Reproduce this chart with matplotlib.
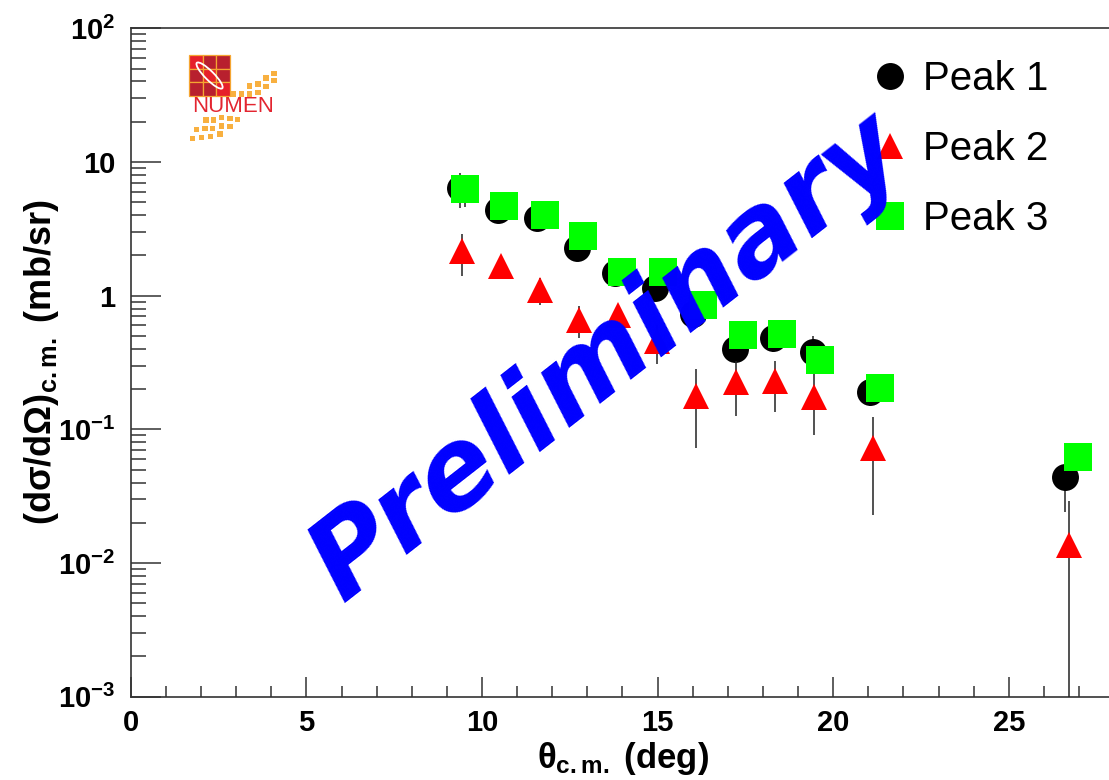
import matplotlib
matplotlib.use("Agg")
import matplotlib.pyplot as plt
import numpy as np
from matplotlib.lines import Line2D
from matplotlib.patches import Rectangle, Ellipse
from matplotlib.ticker import FixedLocator, FixedFormatter, LogLocator, NullFormatter, MultipleLocator

plt.rcParams['font.family'] = ['Liberation Sans', 'DejaVu Sans']
plt.rcParams['mathtext.fontset'] = 'custom'
plt.rcParams['mathtext.rm'] = 'Liberation Sans:bold'
plt.rcParams['mathtext.it'] = 'Liberation Sans:bold'
plt.rcParams['mathtext.bf'] = 'Liberation Sans:bold'

# angular distributions, cross sections in mb/sr
theta_p1 = [9.38, 10.46, 11.57, 12.71, 13.79, 14.93, 16.01, 17.21, 18.30, 19.42, 21.05, 26.60]
sigma_p1 = [6.4, 4.4, 3.8, 2.27, 1.48, 1.14, 0.73, 0.40, 0.48, 0.38, 0.19, 0.044]
err_p1 = [1.9, 0.4, 0.3, 0.2, 0.15, 0.1, 0.16, 0.06, 0.1, 0.12, 0.04, 0.02]

theta_p2 = [9.42, 10.55, 11.65, 12.76, 13.88, 14.99, 16.10, 17.24, 18.35, 19.46, 21.12, 26.72]
sigma_p2 = [2.15, 1.68, 1.10, 0.66, 0.72, 0.456, 0.177, 0.226, 0.228, 0.176, 0.073, 0.0137]
err_p2 = [0.74, 0.1, 0.25, 0.18, 0.1, 0.15, 0.104, 0.1, 0.094, 0.085, 0.05, 0.0156]

theta_p3 = [9.52, 10.62, 11.78, 12.89, 14.00, 15.16, 16.28, 17.42, 18.54, 19.63, 21.33, 26.98]
sigma_p3 = [6.3, 4.66, 4.0, 2.78, 1.51, 1.51, 0.85, 0.51, 0.52, 0.33, 0.203, 0.062]
err_p3 = [1.7, 0.4, 0.3, 0.25, 0.12, 0.12, 0.08, 0.05, 0.05, 0.03, 0.02, 0.006]

labels = ['Peak 1', 'Peak 2', 'Peak 3']
ytick_vals = [1e-3, 1e-2, 1e-1, 1, 10, 100]
ytick_text = ['10$^{-3}$', '10$^{-2}$', '10$^{-1}$', '1', '10', '10$^{2}$']

W, H = 1109, 780
fig = plt.figure(figsize=(W / 100, H / 100), dpi=100)
ax = fig.add_axes([130.8 / W, 1 - 696.7 / H, 28 * 35.12 / W, (696.7 - 28.3) / H])

ebar = dict(ls='none', ecolor='#222222', elinewidth=1.1, capsize=3.3, capthick=1.1, mew=0)
ax.errorbar(theta_p1, sigma_p1, yerr=err_p1, marker='o', ms=19.4, color='black', zorder=3, **ebar)
ax.errorbar(theta_p2, sigma_p2, yerr=err_p2, marker='^', ms=19.0, color='#ff0000', zorder=4, **ebar)
ax.errorbar(theta_p3, sigma_p3, yerr=err_p3, marker='s', ms=20.5, color='#00ff00', zorder=5, **ebar)

ax.set_yscale('log', nonpositive='clip')
ax.set_xlim(0, 28)
ax.set_ylim(1e-3, 1e2)

# ROOT-like axis frame and ticks
for s in ['left', 'bottom', 'top', 'right']:
    ax.spines[s].set_color('#333333')
    ax.spines[s].set_linewidth(1.2)
ax.xaxis.set_major_locator(MultipleLocator(5))
ax.xaxis.set_minor_locator(MultipleLocator(1))
ax.yaxis.set_major_locator(FixedLocator(ytick_vals))
ax.yaxis.set_major_formatter(FixedFormatter(ytick_text))
ax.yaxis.set_minor_locator(LogLocator(base=10, subs=np.arange(2, 10)))
ax.yaxis.set_minor_formatter(NullFormatter())
ax.tick_params(axis='x', which='major', direction='in', length=14.5, width=1.1, color='#333333',
               labelsize=21, pad=9)
ax.tick_params(axis='x', which='minor', direction='in', length=8, width=1.1, color='#333333')
ax.tick_params(axis='y', which='major', direction='in', length=21.5, width=1.1, color='#333333',
               labelsize=21, pad=11)
ax.tick_params(axis='y', which='minor', direction='in', length=11, width=1.1, color='#333333')
for lab in ax.get_xticklabels() + ax.get_yticklabels():
    lab.set_fontweight('bold')

ax.set_xlabel(r'$\theta_{\mathrm{c.m.}}$ (deg)', fontsize=25, fontweight='bold', labelpad=2)
ax.set_ylabel(r'(d$\sigma$/d$\Omega$)$_{\mathrm{c.m.}}$ (mb/sr)', fontsize=26, fontweight='bold',
              labelpad=-2)

handles = [Line2D([], [], ls='none', marker='o', ms=19.4, color='black', mew=0),
           Line2D([], [], ls='none', marker='^', ms=19.0, color='#ff0000', mew=0),
           Line2D([], [], ls='none', marker='s', ms=20.5, color='#00ff00', mew=0)]
ax.legend(handles, labels, loc='upper left', bbox_to_anchor=(870 / W, 1 - 60 / H),
          bbox_transform=fig.transFigure, frameon=False, fontsize=29, handlelength=1.0,
          handletextpad=0.32, labelspacing=0.80, borderpad=0, borderaxespad=0)


def draw_logo(fig):
    lax = fig.add_axes([185 / W, 1 - 145 / H, 97 / W, 95 / H])
    lax.set_xlim(185, 282)
    lax.set_ylim(145, 50)
    lax.axis('off')
    dark, bright, orange = '#b8202e', '#e6202a', '#f5a632'
    x0, y0, c = 189, 55, 13.7
    for i in range(3):
        for j in range(3):
            col = bright if (i, j) in [(0, 0), (2, 2), (1, 1)] else dark
            lax.add_patch(Rectangle((x0 + i * c, y0 + j * c), c, c, facecolor=col,
                                    edgecolor=orange, lw=0.9))
    lax.add_patch(Ellipse((x0 + 1.5 * c, y0 + 1.5 * c), 36, 9, angle=45, facecolor='none',
                          edgecolor='white', lw=1.3))
    lax.text(233, 107, 'NUMEN', color='#e32530', fontsize=16, ha='center', va='center',
             family='Liberation Sans')
    pts = [(233.3, 94), (241.7, 94), (249.3, 94), (249.3, 86), (257.7, 92.7), (257.7, 84),
           (266, 86.7), (266, 78), (274, 80.7), (274, 73.3),
           (206, 120), (213.3, 120), (221.7, 117.3), (230, 118.7), (237.7, 119.3),
           (196.7, 129.3), (205, 128.3), (212.3, 128.3), (221.7, 126), (230, 126.7),
           (192.7, 138.3), (201.7, 137.3), (210.7, 136.7), (220, 134)]
    for px, py in pts:
        lax.add_patch(Rectangle((px - 2.8, py - 2.8), 5.6, 5.6, facecolor='#f8b040', lw=0))


draw_logo(fig)

fig.text(608 / W, 1 - 358 / H, 'Preliminary', rotation=38, rotation_mode='anchor',
         ha='center', va='center', fontsize=80, color='#0000ff', fontweight='bold',
         style='oblique', family='DejaVu Sans', zorder=10)

fig.savefig('out.png', dpi=100)
